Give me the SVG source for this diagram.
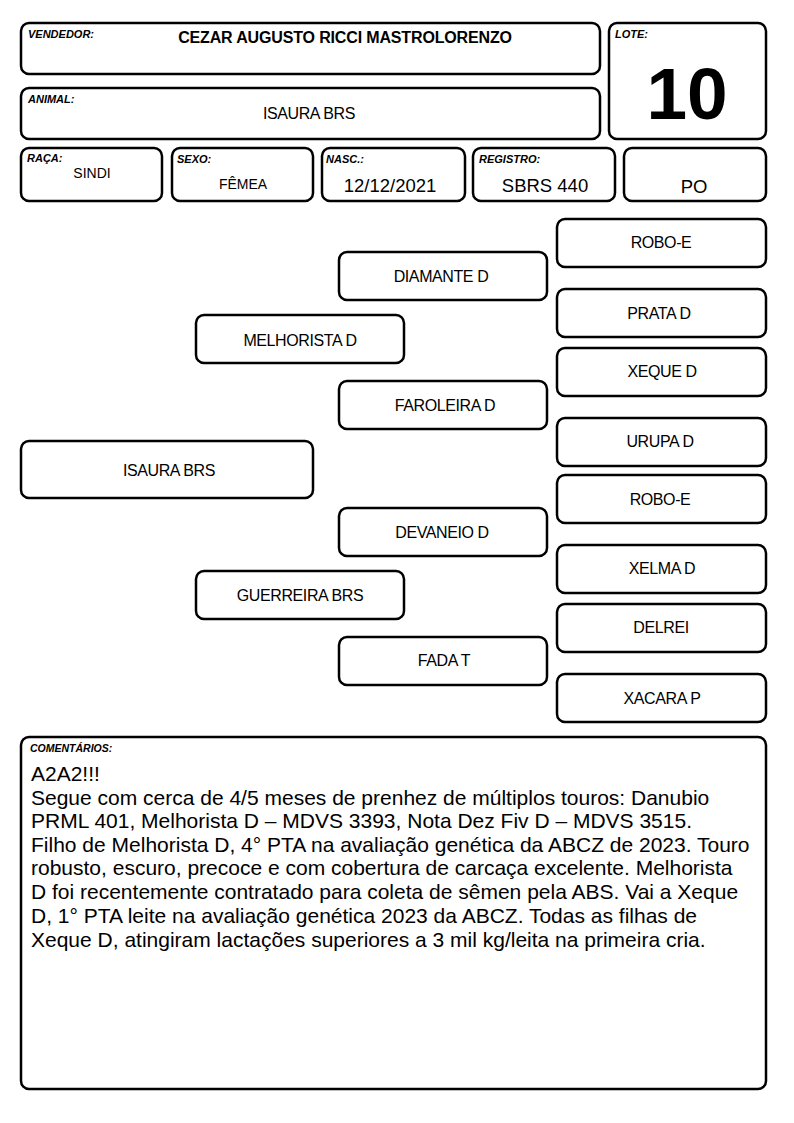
<svg xmlns="http://www.w3.org/2000/svg" width="794" height="1123" viewBox="0 0 794 1123">
<style>
.b{fill:#fff;stroke:#000;stroke-width:2.5}
.lbl{font-family:"Liberation Sans",Arial,sans-serif;font-size:11px;font-weight:bold;font-style:italic;fill:#000}
.t{font-family:"Liberation Sans",Arial,sans-serif;font-size:16px;fill:#000;text-anchor:middle;letter-spacing:-0.4px}
.v{font-family:"Liberation Sans",Arial,sans-serif;font-size:14px;fill:#000;text-anchor:middle}
.vl{font-family:"Liberation Sans",Arial,sans-serif;font-size:18.5px;fill:#000;text-anchor:middle}
.c{font-family:"Liberation Sans",Arial,sans-serif;font-size:21px;fill:#000}
</style>
<rect width="794" height="1123" fill="#fff"/>
<g id="vendedor">
<rect class="b" x="21" y="23" width="579" height="51" rx="8"/>
<text class="lbl" x="28" y="38">VENDEDOR:</text>
<text class="t" x="345" y="43" style="font-weight:bold;letter-spacing:-0.15px">CEZAR AUGUSTO RICCI MASTROLORENZO</text>
</g>
<g id="lote">
<rect class="b" x="609" y="23" width="157" height="116" rx="8"/>
<text class="lbl" x="615" y="38">LOTE:</text>
<text x="687" y="119" style="font-family:'Liberation Sans',Arial,sans-serif;font-size:73px;font-weight:bold;text-anchor:middle">10</text>
</g>
<g id="animal">
<rect class="b" x="21" y="88" width="579" height="51" rx="8"/>
<text class="lbl" x="28" y="103">ANIMAL:</text>
<text class="t" x="309" y="119">ISAURA BRS</text>
</g>
<g id="raca">
<rect class="b" x="21" y="148" width="141" height="53" rx="8"/>
<text class="lbl" x="27" y="162">RAÇA:</text>
<text class="v" x="92" y="178">SINDI</text>
</g>
<g id="sexo">
<rect class="b" x="172" y="148" width="141" height="53" rx="8"/>
<text class="lbl" x="177" y="163">SEXO:</text>
<text class="v" x="243" y="189">FÊMEA</text>
</g>
<g id="nasc">
<rect class="b" x="322" y="148" width="143" height="53" rx="8"/>
<text class="lbl" x="326" y="163">NASC.:</text>
<text class="vl" x="390" y="192">12/12/2021</text>
</g>
<g id="registro">
<rect class="b" x="473" y="148" width="142" height="53" rx="8"/>
<text class="lbl" x="479" y="163">REGISTRO:</text>
<text class="vl" x="545" y="192">SBRS 440</text>
</g>
<g id="po">
<rect class="b" x="624" y="148" width="142" height="53" rx="8"/>
<text class="vl" x="694" y="193">PO</text>
</g>
<g id="connectors"></g>
<g id="p-isaura"><rect class="b" x="21" y="441" width="292" height="57" rx="8"/><text class="t" x="169" y="476">ISAURA BRS</text></g>
<g id="p-melhorista"><rect class="b" x="196" y="315" width="208" height="48" rx="8"/><text class="t" x="300" y="346">MELHORISTA D</text></g>
<g id="p-guerreira"><rect class="b" x="196" y="571" width="208" height="48" rx="8"/><text class="t" x="300" y="601">GUERREIRA BRS</text></g>
<g id="p-diamante"><rect class="b" x="339" y="252" width="208" height="48" rx="8"/><text class="t" x="441" y="282">DIAMANTE D</text></g>
<g id="p-faroleira"><rect class="b" x="339" y="381" width="208" height="48" rx="8"/><text class="t" x="445" y="411">FAROLEIRA D</text></g>
<g id="p-devaneio"><rect class="b" x="339" y="508" width="208" height="48" rx="8"/><text class="t" x="442" y="538">DEVANEIO D</text></g>
<g id="p-fada"><rect class="b" x="339" y="637" width="208" height="48" rx="8"/><text class="t" x="444" y="666">FADA T</text></g>
<g id="p-robo1"><rect class="b" x="557" y="219" width="209" height="48" rx="8"/><text class="t" x="661" y="248">ROBO-E</text></g>
<g id="p-prata"><rect class="b" x="557" y="289" width="209" height="48" rx="8"/><text class="t" x="659" y="319">PRATA D</text></g>
<g id="p-xeque"><rect class="b" x="557" y="348" width="209" height="48" rx="8"/><text class="t" x="662" y="377">XEQUE D</text></g>
<g id="p-urupa"><rect class="b" x="557" y="418" width="209" height="48" rx="8"/><text class="t" x="660" y="447">URUPA D</text></g>
<g id="p-robo2"><rect class="b" x="557" y="475" width="209" height="48" rx="8"/><text class="t" x="660" y="505">ROBO-E</text></g>
<g id="p-xelma"><rect class="b" x="557" y="545" width="209" height="48" rx="8"/><text class="t" x="662" y="574">XELMA D</text></g>
<g id="p-delrei"><rect class="b" x="557" y="604" width="209" height="48" rx="8"/><text class="t" x="661" y="633">DELREI</text></g>
<g id="p-xacara"><rect class="b" x="557" y="674" width="209" height="48" rx="8"/><text class="t" x="662" y="704">XACARA P</text></g>
<g id="comentarios">
<rect class="b" x="21" y="737" width="745" height="352" rx="8"/>
<text class="lbl" x="30" y="752" style="font-size:10.5px">COMENTÁRIOS:</text>
<text class="c" x="31" y="781">A2A2!!!</text>
<text class="c" x="31" y="805">Segue com cerca de 4/5 meses de prenhez de múltiplos touros: Danubio</text>
<text class="c" x="31" y="828">PRML 401, Melhorista D – MDVS 3393, Nota Dez Fiv D – MDVS 3515.</text>
<text class="c" x="31" y="852">Filho de Melhorista D, 4° PTA na avaliação genética da ABCZ de 2023. Touro</text>
<text class="c" x="31" y="875">robusto, escuro, precoce e com cobertura de carcaça excelente. Melhorista</text>
<text class="c" x="31" y="899">D foi recentemente contratado para coleta de sêmen pela ABS. Vai a Xeque</text>
<text class="c" x="31" y="923">D, 1° PTA leite na avaliação genética 2023 da ABCZ. Todas as filhas de</text>
<text class="c" x="31" y="947">Xeque D, atingiram lactações superiores a 3 mil kg/leita na primeira cria.</text>
</g>
</svg>
